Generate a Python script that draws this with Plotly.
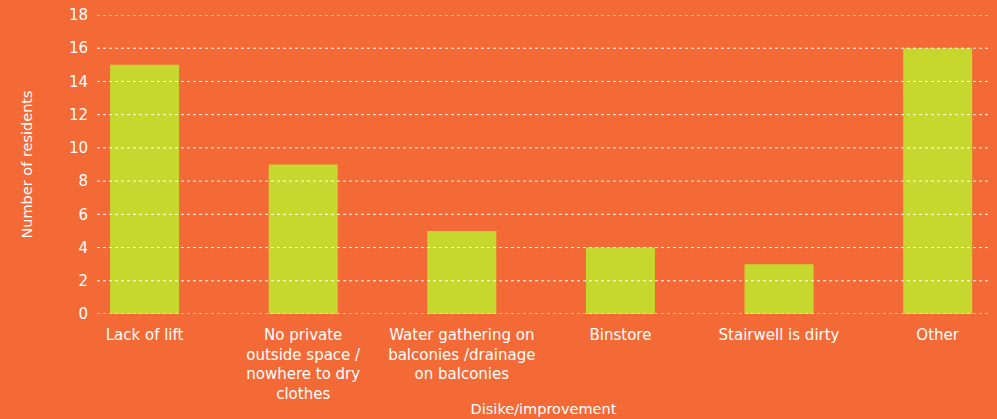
import plotly.graph_objects as go

categories = [
    "Lack of lift",
    "No private<br>outside space /<br>nowhere to dry<br>clothes",
    "Water gathering on<br>balconies /drainage<br>on balconies",
    "Binstore",
    "Stairwell is dirty",
    "Other",
]
residents = [15, 9, 5, 4, 3, 16]
y_ticks = [0, 2, 4, 6, 8, 10, 12, 14, 16, 18]

orange = "#F36A37"
green = "#C6D82E"

fig = go.Figure(go.Bar(
    x=categories,
    y=residents,
    marker=dict(color=green, line=dict(width=0)),
    width=0.435,
    hoverinfo="x+y",
))

# dotted white gridlines drawn on top of the bars
for t in y_ticks:
    fig.add_shape(type="line", xref="paper", x0=0, x1=1, yref="y", y0=t, y1=t,
                  line=dict(color="white", width=1, dash="dot"), layer="above")

fig.update_layout(
    width=997, height=419,
    paper_bgcolor=orange, plot_bgcolor=orange,
    margin=dict(l=97, r=7, t=15, b=105),
    font=dict(family="DejaVu Sans", color="white", size=15),
    showlegend=False,
    xaxis=dict(
        range=[-0.3, 5.33], automargin=False,
        showgrid=False, zeroline=False, showline=False,
        ticks="", ticklabelstandoff=10,
        title=dict(text="Disike/improvement", font=dict(size=14.5), standoff=2),
    ),
    yaxis=dict(
        range=[0, 18], tickvals=y_ticks, automargin=False,
        showgrid=False, zeroline=False, showline=False,
        ticks="", tickfont=dict(size=15), ticklabelstandoff=8,
        title=dict(text="Number of residents", font=dict(size=14.5), standoff=32),
    ),
)

fig.write_html("out.html", config={"displayModeBar": False},
               post_script="document.body.style.margin='0px';")
